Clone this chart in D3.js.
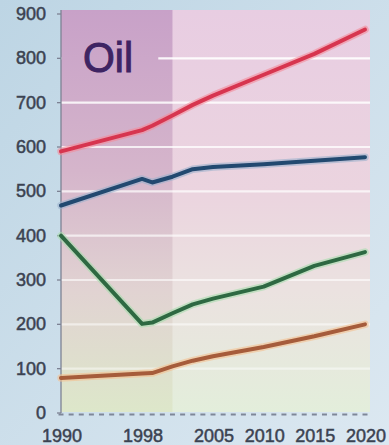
<!DOCTYPE html>
<html><head><meta charset="utf-8">
<script src="https://cdn.jsdelivr.net/npm/d3@7"></script>
<style>html,body{margin:0;padding:0;background:#c9dde9;}svg{display:block;}</style>
</head><body>
<svg id="c" width="389" height="445"></svg>
<script>
const years = [1990, 1998, 1999, 2001, 2003, 2005, 2010, 2015, 2020];
const seriesRed    = [590, 638, 648, 671, 695, 716, 763, 810, 865];
const seriesBlue   = [468, 528, 520, 533, 550, 555, 561, 569, 577];
const seriesGreen  = [400, 201, 204, 225, 245, 258, 285, 332, 363];
const seriesOrange = [79, 89, 90, 105, 118, 128, 149, 173, 200];
const yTicks = [0, 100, 200, 300, 400, 500, 600, 700, 800, 900];
const xTickLabels = [1990, 1998, 2005, 2010, 2015, 2020];
const shadeEnd = 2001;
const title = "Oil";

const svg = d3.select("#c");
const W = 389, H = 445;
const x = d3.scaleLinear().domain([1990, 2020]).range([61, 365]);
const y = d3.scaleLinear().domain([0, 900]).range([413, 14]);
const plotTop = 10, plotBottom = 412, plotRight = 370;

const defs = svg.append("defs");
function grad(id, stops) {
  const g = defs.append("linearGradient").attr("id", id)
    .attr("gradientUnits", "userSpaceOnUse")
    .attr("x1", 0).attr("x2", 0).attr("y1", plotTop).attr("y2", plotBottom);
  stops.forEach(s => g.append("stop").attr("offset", s[0]).attr("stop-color", s[1]));
}
const og = defs.append("linearGradient").attr("id", "outer")
  .attr("x1", 0).attr("x2", 1).attr("y1", 0).attr("y2", 1);
og.append("stop").attr("offset", 0).attr("stop-color", "#bdd5e4");
og.append("stop").attr("offset", 1).attr("stop-color", "#dce8f1");
grad("right", [[0, "#e8cde2"], [0.45, "#ebd4df"], [0.7, "#ebe2e0"], [1, "#e3eedb"]]);
grad("left", [[0, "#c8a1c8"], [0.4, "#d5b5cb"], [0.7, "#e1d3d2"], [1, "#dde7ca"]]);
const lf = defs.append("filter").attr("id", "soft").attr("x", -0.1).attr("y", -0.1).attr("width", 1.2).attr("height", 1.2);
lf.append("feGaussianBlur").attr("stdDeviation", 0.6);

svg.append("rect").attr("width", W).attr("height", H).attr("fill", "url(#outer)");
svg.append("rect").attr("x", x(1990)).attr("y", plotTop)
  .attr("width", plotRight - x(1990)).attr("height", plotBottom - plotTop).attr("fill", "url(#right)");
svg.append("rect").attr("x", x(1990)).attr("y", plotTop)
  .attr("width", x(shadeEnd) - x(1990)).attr("height", plotBottom - plotTop).attr("fill", "url(#left)");

// gridlines
svg.append("g").selectAll("line").data(yTicks.filter(v => v > 0 && v < 900)).join("line")
  .attr("x1", x(1990)).attr("x2", plotRight)
  .attr("y1", d => y(d)).attr("y2", d => y(d))
  .attr("stroke", "#ffffff").attr("stroke-width", 2.2)
  .attr("stroke-opacity", d => 0.4 + d / 1600);

// label box covering grid in top-left
svg.append("rect").attr("x", x(1990) + 1).attr("y", plotTop)
  .attr("width", x(1999.6) - x(1990) - 1).attr("height", y(760) - plotTop).attr("fill", "url(#left)");
svg.append("text").attr("x", 83).attr("y", 72).text(title)
  .attr("font-family", "Liberation Sans, Arial, sans-serif").attr("font-size", 42)
  .attr("textLength", 50).attr("lengthAdjust", "spacingAndGlyphs")
  .attr("fill", "#3e2463").attr("stroke", "#3e2463").attr("stroke-width", 1);

// y axis line
svg.append("line").attr("x1", x(1990)).attr("x2", x(1990)).attr("y1", plotTop).attr("y2", y(0))
  .attr("stroke", "#7d8294").attr("stroke-width", 1.3);
// y ticks
svg.append("g").selectAll("line").data(yTicks).join("line")
  .attr("x1", x(1990) - 4).attr("x2", x(1990))
  .attr("y1", d => y(d)).attr("y2", d => y(d))
  .attr("stroke", "#7d8294").attr("stroke-width", 1.3);
svg.append("g").selectAll("text").data(yTicks).join("text")
  .attr("x", 46).attr("y", d => y(d))
  .attr("text-anchor", "end").attr("dominant-baseline", "central")
  .attr("font-family", "Liberation Sans, Arial, sans-serif").attr("font-size", 18)
  .attr("fill", "#3b4251").attr("stroke", "#3b4251").attr("stroke-width", 0.5).text(d => d);

// x minor ticks (one per year)
svg.append("g").selectAll("line").data(d3.range(1990, 2021)).join("line")
  .attr("x1", d => x(d) - 2.5).attr("x2", d => x(d) + 2.5)
  .attr("y1", 414.5).attr("y2", 414.5)
  .attr("stroke", "#7e8798").attr("stroke-width", 2);
svg.append("g").selectAll("text").data(xTickLabels).join("text")
  .attr("x", d => x(d) + 1).attr("y", 442)
  .attr("text-anchor", "middle")
  .attr("font-family", "Liberation Sans, Arial, sans-serif").attr("font-size", 18)
  .attr("fill", "#3b4251").attr("stroke", "#3b4251").attr("stroke-width", 0.5).text(d => d);

// lines
const line = d3.line().x((d, i) => x(years[i])).y(d => y(d));
const series = [
  {v: seriesRed, c: "#d7364f", h: "#f48a9a"},
  {v: seriesBlue, c: "#24486f", h: "#9bb0cc"},
  {v: seriesGreen, c: "#2f6943", h: "#a6dcae"},
  {v: seriesOrange, c: "#a65c3a", h: "#f3c08f"}
];
const lg = svg.append("g").attr("filter", "url(#soft)");
series.forEach(s => {
  lg.append("path").attr("d", line(s.v)).attr("fill", "none")
    .attr("stroke", s.h).attr("stroke-width", 7.5).attr("stroke-opacity", 0.6)
    .attr("stroke-linejoin", "round").attr("stroke-linecap", "round");
  lg.append("path").attr("d", line(s.v)).attr("fill", "none")
    .attr("stroke", s.c).attr("stroke-width", 4)
    .attr("stroke-linejoin", "round").attr("stroke-linecap", "round");
});
</script>
</body></html>
